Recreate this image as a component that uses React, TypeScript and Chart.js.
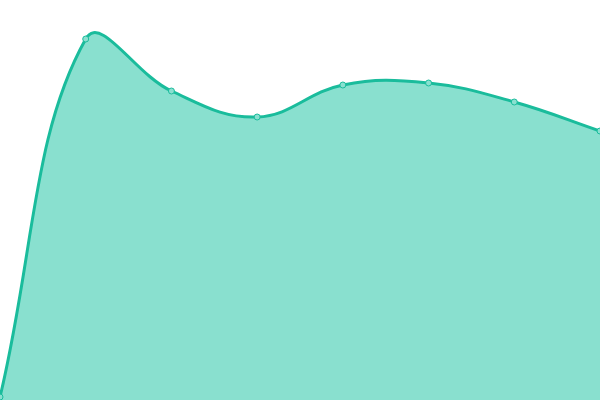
import React, { useEffect, useRef } from 'react'
import Chart from 'chart.js/auto'

const labels = ['1', '2', '3', '4', '5', '6', '7', '8']
const values = [0.75, 90.25, 77.25, 70.75, 78.75, 79.25, 74.5, 67.25]

const App: React.FC = () => {
  const chartRef = useRef<HTMLCanvasElement | null>(null)

  useEffect(() => {
    document.body.style.margin = '0'
    if (!chartRef.current) return
    const chart = new Chart(chartRef.current, {
      type: 'line',
      data: {
        labels: labels,
        datasets: [
          {
            data: values,
            borderColor: '#1abc9c',
            backgroundColor: 'rgba(20, 194, 160, 0.5)',
            borderWidth: 3,
            fill: 'start',
            tension: 0.4,
            pointRadius: 3,
            pointBorderWidth: 1,
            pointBackgroundColor: '#8ae0d0',
            pointBorderColor: '#1abc9c'
          }
        ]
      },
      options: {
        responsive: false,
        animation: false,
        layout: { padding: 0, autoPadding: false },
        scales: {
          x: { display: false, offset: false },
          y: { display: false, min: 0, max: 100 }
        },
        plugins: {
          legend: { display: false },
          tooltip: { enabled: false }
        }
      }
    })
    return () => {
      chart.destroy()
    }
  }, [])

  return (
    <div style={{ width: 600, height: 400 }}>
      <canvas ref={chartRef} width={600} height={400} />
    </div>
  )
}

export default App
